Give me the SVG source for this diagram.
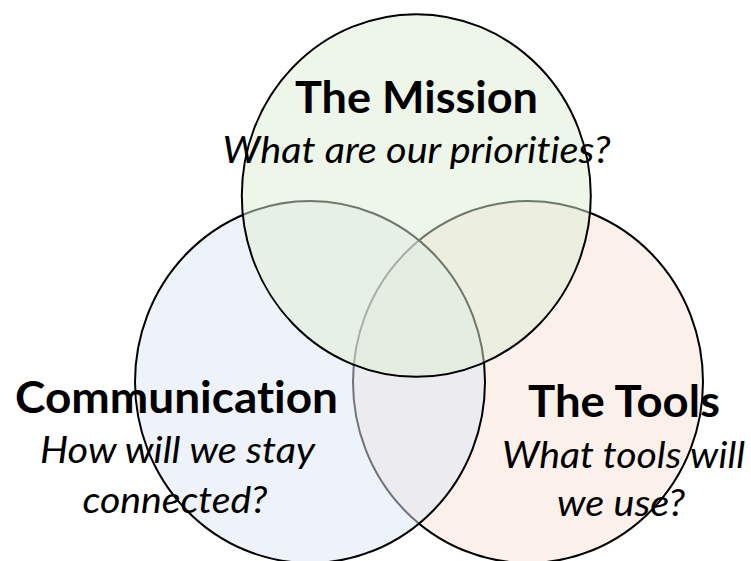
<svg xmlns="http://www.w3.org/2000/svg" width="751" height="561" viewBox="0 0 751 561">
  <style>
    .set { stroke: #000; stroke-width: 2; fill-opacity: 0.5; }
    text { font-family: Lato, "Liberation Sans", sans-serif; fill: #000; text-anchor: middle; font-variant-ligatures: none; font-feature-settings: "liga" 0, "clig" 0; }
    .title { font-weight: bold; font-size: 44px; }
    .sub { font-style: italic; font-size: 37px; }
  </style>
  <rect width="751" height="561" fill="#fff"/>

  <!-- Tools set (bottom right), drawn first -->
  <g id="tools">
    <ellipse class="set" cx="528" cy="382" rx="175" ry="181" fill="#f7e1d5"/>
    <text class="title" x="624" y="417" textLength="192" lengthAdjust="spacingAndGlyphs">The Tools</text>
    <text class="sub" x="623.5" y="468" textLength="243" lengthAdjust="spacingAndGlyphs">What tools will</text>
    <text class="sub" x="621" y="516" textLength="128" lengthAdjust="spacingAndGlyphs">we use?</text>
  </g>

  <!-- Communication set (bottom left) -->
  <g id="communication">
    <ellipse class="set" cx="310" cy="382" rx="175" ry="181" fill="#dde5f5"/>
    <text class="title" x="176.5" y="413" textLength="323" lengthAdjust="spacingAndGlyphs">Communication</text>
    <text class="sub" x="177.5" y="463" textLength="275" lengthAdjust="spacingAndGlyphs">How will we stay</text>
    <text class="sub" x="175" y="513" textLength="185" lengthAdjust="spacingAndGlyphs">connected?</text>
  </g>

  <!-- Mission set (top), drawn last -->
  <g id="mission">
    <ellipse class="set" cx="416.3" cy="195.5" rx="174.5" ry="181.3" fill="#ddedd3"/>
    <text class="title" x="416.5" y="113" textLength="243" lengthAdjust="spacingAndGlyphs">The Mission</text>
    <text class="sub" x="416.5" y="163" textLength="388" lengthAdjust="spacingAndGlyphs">What are our priorities?</text>
  </g>
</svg>
